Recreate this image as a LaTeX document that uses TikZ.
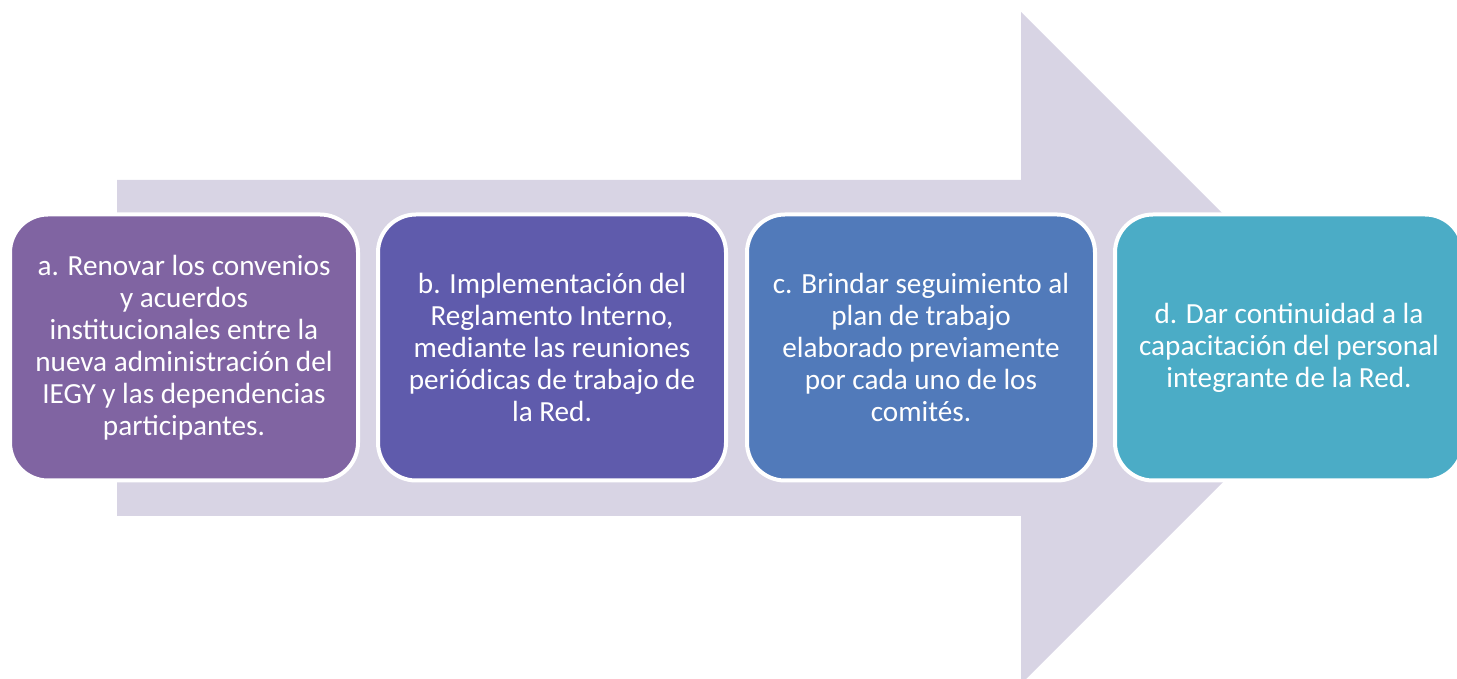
\documentclass[tikz,border=0pt]{standalone}
\usepackage{fontspec}
\setmainfont{Carlito}
\definecolor{arrowgray}{HTML}{D8D4E4}
\definecolor{stepa}{HTML}{8064A2}
\definecolor{stepb}{HTML}{5F5BAC}
\definecolor{stepc}{HTML}{517ABA}
\definecolor{stepd}{HTML}{4BACC6}
\tikzset{
  stepbox/.style={draw=white,line width=2pt,rounded corners=19pt,
    minimum width=174pt,minimum height=133pt,outer sep=0pt,
    align=center,text=white,
    font=\fontsize{14.6pt}{16pt}\selectfont}
}
\begin{document}
\begin{tikzpicture}[x=0.5pt,y=0.5pt]
		\useasboundingbox (0,0) rectangle (1457,679);
		\clip (0,0) rectangle (1457,679);
		% big arrow behind the steps
		\fill[arrowgray] (117,163)--(117,499)--(1021,499)--(1021,667)--(1357,331)--(1021,-5)--(1021,163)--cycle;
		\node[stepbox,fill=stepa] (a) at (184,331.5) {a. Renovar los convenios\\y acuerdos\\institucionales entre la\\nueva administración del\\IEGY y las dependencias\\participantes.};
		\node[stepbox,fill=stepb] (b) at (552,331.5) {b. Implementación del\\Reglamento Interno,\\mediante las reuniones\\periódicas de trabajo de\\la Red.};
		\node[stepbox,fill=stepc] (c) at (921,331.5) {c. Brindar seguimiento al\\plan de trabajo\\elaborado previamente\\por cada uno de los\\comités.};
		\node[stepbox,fill=stepd] (d) at (1289,331.5) {d. Dar continuidad a la\\capacitación del personal\\integrante de la Red.};
\end{tikzpicture}
\end{document}
